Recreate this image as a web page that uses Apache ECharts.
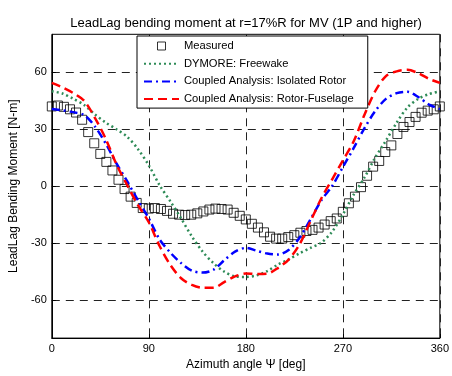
<!DOCTYPE html>
<html>
<head>
<meta charset="utf-8">
<script src="https://cdn.jsdelivr.net/npm/echarts@6/dist/echarts.min.js"></script>
<style>html,body{margin:0;padding:0;background:#fff;}#c{width:452px;height:376px;}</style>
</head>
<body>
<div id="c"></div>
<script>
var titleText = 'LeadLag bending moment at r=17%R for MV (1P and higher)';
var xName = 'Azimuth angle \u03A8 [deg]';
var yName = 'LeadLag Bending Moment [N-m]';
var seriesNames = ['Measured', 'DYMORE: Freewake', 'Coupled Analysis: Isolated Rotor', 'Coupled Analysis: Rotor-Fuselage'];
var xTicks = [0, 90, 180, 270, 360];
var yTicks = [-60, -30, 0, 30, 60];

var measuredStep = 5.625;
var measured = [42, 42.5, 41.8, 40.5, 38.8, 35, 28.5, 22.6, 17, 12.8, 8.3, 3.4, -1.5, -5.5, -8.8, -11.5,
  -11.8, -11.5, -12, -13, -14.5, -15, -15.2, -15, -14.3, -13.3, -12.3, -11.8, -12, -12.3, -14, -15.6,
  -17.5, -19.8, -21.8, -24.3, -26.6, -27.6, -27.6, -26.8, -25.8, -24.5, -23.6, -23, -21.8, -20.2, -18.4, -17,
  -13.5, -9, -5.5, -0.5, 5.5, 10.3, 13.3, 18, 21.5, 27.5, 31.2, 33.8, 36.5, 38.7, 39.8, 40.5, 42];

var modelPsi = [0,10,20,30,40,50,60,70,80,90,100,110,120,130,140,150,160,170,180,190,200,210,220,230,240,250,260,270,280,290,300,310,320,330,340,350,360];
var dymore = [50, 48.8, 46, 42.8, 37.8, 33.5, 30, 26, 19.5, 11, 0.5, -8, -17, -26.5, -34.5, -40.5, -45, -47.5, -47.8, -47, -44.7, -41.2, -38.5, -35.3, -32.5, -29.8, -24, -15, -4.5, 4.5, 15, 24, 33.5, 41.5, 46, 48.5, 50];
var isolated = [40.6, 40, 39, 37.5, 31.5, 22.5, 12, 2.5, -7.5, -17, -28, -35, -40.5, -44.5, -45.5, -44, -39, -34.5, -32.5, -34, -35.5, -36, -33.5, -27, -17.5, -7.5, 0, 10, 20, 30.5, 39.5, 46, 49, 49.7, 47, 43, 40.6];
var fuselage = [54.4, 52, 49, 45, 36, 25, 11.5, 0.5, -10, -19, -31.5, -41.5, -48.5, -52, -53.5, -53.5, -50.5, -47.5, -46, -46.2, -46, -43, -38.5, -30.5, -18.5, -6.5, 3.5, 13.5, 23.5, 37.5, 50, 58, 60.5, 61.3, 59.5, 56.5, 54.4];

function pairs(xs, ys) { return ys.map(function (v, i) { return [xs[i], v]; }); }
var measuredPsi = measured.map(function (v, i) { return i * measuredStep; });

var font = 'Arial, "Liberation Sans", Helvetica, sans-serif';
var hiddenSymbol = {color: 'rgba(0,0,0,0)', borderWidth: 0, opacity: 0};
var chart = echarts.init(document.getElementById('c'), null, {renderer: 'canvas'});
chart.setOption({
  animation: false,
  backgroundColor: '#fff',
  title: {
    text: titleText, left: 241, top: 12, textAlign: 'center',
    textStyle: {fontFamily: font, fontSize: 13, fontWeight: 'normal', color: '#000'}
  },
  grid: {left: 50.7, right: 9.3, top: 34.3, bottom: 34, show: true, borderColor: '#000', borderWidth: 1, backgroundColor: 'transparent'},
  legend: {
    orient: 'vertical', left: 137, top: 36,
    backgroundColor: '#fff', borderColor: '#000', borderWidth: 1, borderRadius: 0,
    padding: [4, 14, 3, 6], itemGap: 5.7, itemWidth: 35, itemHeight: 8,
    symbolKeepAspect: true,
    textStyle: {fontFamily: font, fontSize: 11.2, color: '#000', lineHeight: 12},
    data: [
      {name: seriesNames[0], icon: 'path://M0,0L10,0L10,10L0,10Z', itemStyle: {color: 'rgba(0,0,0,0)', borderColor: '#000', borderWidth: 1}},
      {name: seriesNames[1], itemStyle: hiddenSymbol},
      {name: seriesNames[2], itemStyle: hiddenSymbol},
      {name: seriesNames[3], itemStyle: hiddenSymbol}
    ]
  },
  xAxis: {
    type: 'value', min: 0, max: 360, interval: 90,
    name: xName, nameLocation: 'middle', nameGap: 16,
    nameTextStyle: {fontFamily: font, fontSize: 12, color: '#000'},
    axisLine: {show: true, onZero: false, lineStyle: {color: '#000', width: 1}},
    axisTick: {show: true, inside: true, length: 4, lineStyle: {color: '#000'}},
    axisLabel: {fontFamily: font, fontSize: 11, color: '#000', margin: 5},
    splitLine: {show: true, lineStyle: {color: '#222', type: [8, 6], width: 1}}
  },
  yAxis: {
    type: 'value', min: -80, max: 80,
    name: yName, nameLocation: 'middle', nameGap: 24, nameRotate: 90,
    nameTextStyle: {fontFamily: font, fontSize: 12, color: '#000'},
    axisLine: {show: true, onZero: false, lineStyle: {color: '#000', width: 1}},
    axisTick: {show: true, inside: true, length: 4, lineStyle: {color: '#000'}, customValues: yTicks},
    axisLabel: {fontFamily: font, fontSize: 11, color: '#000', margin: 5, customValues: yTicks},
    splitLine: {show: true, lineStyle: {color: '#222', type: [8, 6], width: 1}}
  },
  series: [
    {
      name: seriesNames[0], type: 'scatter', symbol: 'rect', symbolSize: 9,
      itemStyle: {color: 'rgba(255,255,255,0)', borderColor: '#000', borderWidth: 1},
      data: pairs(measuredPsi, measured), z: 2
    },
    {
      name: seriesNames[1], type: 'line', smooth: 0.3, showSymbol: false, symbol: 'none',
      itemStyle: {color: '#2e8b57'},
      lineStyle: {color: '#2e8b57', width: 2.5, type: [2, 3]},
      data: pairs(modelPsi, dymore), z: 3
    },
    {
      name: seriesNames[2], type: 'line', smooth: 0.3, showSymbol: false, symbol: 'none',
      itemStyle: {color: '#0000ff'},
      lineStyle: {color: '#0000ff', width: 2.5, type: [8, 4, 2, 4]},
      data: pairs(modelPsi, isolated), z: 3
    },
    {
      name: seriesNames[3], type: 'line', smooth: 0.3, showSymbol: false, symbol: 'none',
      itemStyle: {color: '#ff0000'},
      lineStyle: {color: '#ff0000', width: 2.5, type: [9, 5]},
      data: pairs(modelPsi, fuselage), z: 3
    }
  ]
});
</script>
</body>
</html>
